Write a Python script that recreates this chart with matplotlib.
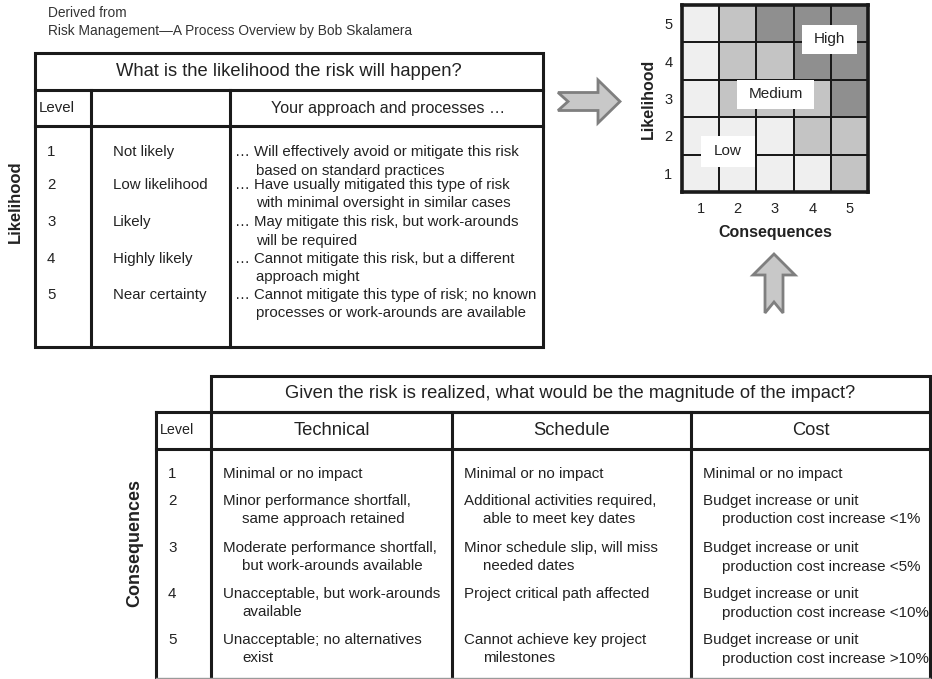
import numpy as np
import matplotlib
matplotlib.use("Agg")
import matplotlib.pyplot as plt
from matplotlib.patches import Rectangle, Polygon
from matplotlib.colors import ListedColormap

plt.rcParams['font.family'] = ['Liberation Sans', 'DejaVu Sans']

# ---- data ----
SOURCE = ["Derived from", "Risk Management\u2014A Process Overview by Bob Skalamera"]

LIKELIHOOD_Q = "What is the likelihood the risk will happen?"
LIKELIHOOD_LEVELS = [1, 2, 3, 4, 5]
LIKELIHOOD_NAMES = ["Not likely", "Low likelihood", "Likely", "Highly likely", "Near certainty"]
APPROACH = [
    "\u2026 Will effectively avoid or mitigate this risk\nbased on standard practices",
    "\u2026 Have usually mitigated this type of risk\nwith minimal oversight in similar cases",
    "\u2026 May mitigate this risk, but work-arounds\nwill be required",
    "\u2026 Cannot mitigate this risk, but a different\napproach might",
    "\u2026 Cannot mitigate this type of risk; no known\nprocesses or work-arounds are available",
]

CONSEQ_Q = "Given the risk is realized, what would be the magnitude of the impact?"
CONSEQ_LEVELS = [1, 2, 3, 4, 5]
CONSEQ_COLUMNS = ["Technical", "Schedule", "Cost"]
TECHNICAL = [
    "Minimal or no impact",
    "Minor performance shortfall,\nsame approach retained",
    "Moderate performance shortfall,\nbut work-arounds available",
    "Unacceptable, but work-arounds\navailable",
    "Unacceptable; no alternatives\nexist",
]
SCHEDULE = [
    "Minimal or no impact",
    "Additional activities required,\nable to meet key dates",
    "Minor schedule slip, will miss\nneeded dates",
    "Project critical path affected",
    "Cannot achieve key project\nmilestones",
]
COST = [
    "Minimal or no impact",
    "Budget increase or unit\nproduction cost increase <1%",
    "Budget increase or unit\nproduction cost increase <5%",
    "Budget increase or unit\nproduction cost increase <10%",
    "Budget increase or unit\nproduction cost increase >10%",
]

# risk level of each cell, rows = likelihood 1..5, cols = consequence 1..5
RISK_GRID = [
    [0, 0, 0, 0, 1],
    [0, 0, 0, 1, 1],
    [0, 1, 1, 1, 2],
    [0, 1, 1, 2, 2],
    [0, 1, 2, 2, 2],
]
RISK_NAMES = ["Low", "Medium", "High"]
RISK_COLORS = ["#efefef", "#c4c4c4", "#8f8f8f"]

# ---- layout (pixels, origin top-left) ----
W, H = 932, 679
LINE = "#1a1a1a"
TXT = "#222222"
LW = 2.2
BODY_TOP = 10.8
BODY_BOT = 10.9
HEAD = 13.2

fig = plt.figure(figsize=(W / 100, H / 100), dpi=100)
ax = fig.add_axes([0, 0, 1, 1])
ax.set_xlim(0, W)
ax.set_ylim(H, 0)
ax.axis("off")


def hline(x0, x1, y, lw=LW, color=LINE):
    ax.plot([x0, x1], [y, y], color=color, lw=lw, solid_capstyle="projecting")


def vline(x, y0, y1, lw=LW, color=LINE):
    ax.plot([x, x], [y0, y1], color=color, lw=lw, solid_capstyle="projecting")


def cell_text(x, y, text, size, indent=20, gap=18.5):
    for i, ln in enumerate(text.split("\n")):
        ax.text(x + (indent if i else 0), y + i * gap, ln, fontsize=size,
                va="center", ha="left", color=TXT)


def notched_arrow(tail, tip, head_len, head_w, shaft_w, notch):
    tail = np.array(tail, float)
    tip = np.array(tip, float)
    d = tip - tail
    L = np.hypot(*d)
    d /= L
    n = np.array([-d[1], d[0]])
    local = [(notch, 0), (0, shaft_w / 2), (L - head_len, shaft_w / 2),
             (L - head_len, head_w / 2), (L, 0), (L - head_len, -head_w / 2),
             (L - head_len, -shaft_w / 2), (0, -shaft_w / 2)]
    pts = [tail + u * d + v * n for u, v in local]
    ax.add_patch(Polygon(pts, closed=True, facecolor="#c8c8c8",
                         edgecolor="#7f7f7f", lw=2.0, joinstyle="miter"))


# source note
ax.text(48, 13, SOURCE[0], fontsize=9.9, va="center", color="#333333")
ax.text(48, 31, SOURCE[1], fontsize=9.9, va="center", color="#333333")

# ---- likelihood table ----
tx0, tx1, ty0, ty1 = 35, 543, 53, 347
c1, c2 = 91, 230
r1, r2 = 90, 126
ax.add_patch(Rectangle((tx0, ty0), tx1 - tx0, ty1 - ty0, fill=False, ec=LINE, lw=LW))
hline(tx0, tx1, r1)
hline(tx0, tx1, r2)
vline(c1, r1, ty1)
vline(c2, r1, ty1)
ax.text((tx0 + tx1) / 2, (ty0 + r1) / 2, LIKELIHOOD_Q, fontsize=HEAD,
        ha="center", va="center", color=TXT)
ax.text(39, (r1 + r2) / 2, "Level", fontsize=BODY_TOP, va="center", color=TXT)
ax.text((c2 + tx1) / 2 + 2, (r1 + r2) / 2, "Your approach and processes \u2026",
        fontsize=11.6, ha="center", va="center", color=TXT)
row_y = [152, 185, 222, 259, 295]
for lvl, name, desc, y in zip(LIKELIHOOD_LEVELS, LIKELIHOOD_NAMES, APPROACH, row_y):
    ax.text(47, y, str(lvl), fontsize=BODY_TOP, va="center", color=TXT)
    ax.text(113, y, name, fontsize=BODY_TOP, va="center", color=TXT)
    cell_text(235, y, desc, BODY_TOP, indent=21)
ax.text(15, 202, "Likelihood", fontsize=12, fontweight="bold", rotation=90,
        ha="center", va="center", color=TXT)

# ---- arrows ----
notched_arrow((558, 101.5), (620, 101.5), 22, 43, 18, 10)
notched_arrow((774, 313), (774, 254), 21, 42, 18, 11)

# ---- risk matrix ----
mx0, mx1, my0, my1 = 682, 868, 5, 192
max_ = fig.add_axes([mx0 / W, 1 - my1 / H, (mx1 - mx0) / W, (my1 - my0) / H])
edges = np.arange(0.5, 6.0, 1.0)
max_.pcolormesh(edges, edges, np.array(RISK_GRID), cmap=ListedColormap(RISK_COLORS),
                vmin=-0.5, vmax=2.5, edgecolors=LINE, linewidth=1.4)
max_.set_xlim(0.5, 5.5)
max_.set_ylim(0.5, 5.5)
max_.set_xticks(CONSEQ_LEVELS)
max_.set_yticks(LIKELIHOOD_LEVELS)
max_.tick_params(length=0, labelsize=10.5, colors=TXT, pad=7)
for s in max_.spines.values():
    s.set_linewidth(2.6)
    s.set_color(LINE)
max_.set_xlabel("Consequences", fontsize=11.5, fontweight="bold", labelpad=7, color=TXT)
max_.set_ylabel("Likelihood", fontsize=11.5, fontweight="bold", labelpad=6, color=TXT)
# label boxes: (center x, center y, width, height) in matrix units
label_boxes = [(1.737, 1.584, 1.45, 0.83), (3.013, 3.107, 2.07, 0.78), (4.465, 4.578, 1.48, 0.78)]
for name, (cx, cy, bw, bh) in zip(RISK_NAMES, label_boxes):
    max_.add_patch(Rectangle((cx - bw / 2, cy - bh / 2), bw, bh, facecolor="white",
                             edgecolor="none", zorder=3))
    max_.text(cx, cy, name, fontsize=11, ha="center", va="center", color=TXT, zorder=4)

# ---- consequence table ----
bx0, bx1 = 156, 930
bq0, bq1 = 211, 930
by0, by1, by2, by3 = 376, 412, 449, 678
cols = [211, 452, 691, 930]
ax.add_patch(Rectangle((bq0, by0), bq1 - bq0, by1 - by0, fill=False, ec=LINE, lw=LW))
hline(bx0, bx1, by1)
hline(bx0, bx1, by2)
vline(bx0, by1, by3)
vline(bx1, by1, by3)
for x in cols[:-1]:
    vline(x, by1, by3)
hline(bx0, bx1, by3, lw=1.0, color="#9a9a9a")
ax.text((bq0 + bq1) / 2, (by0 + by1) / 2, CONSEQ_Q, fontsize=HEAD,
        ha="center", va="center", color=TXT)
ax.text(160, (by1 + by2) / 2, "Level", fontsize=10.3, va="center", color=TXT)
for name, xa, xb in zip(CONSEQ_COLUMNS, cols[:-1], cols[1:]):
    ax.text((xa + xb) / 2, (by1 + by2) / 2, name, fontsize=HEAD,
            ha="center", va="center", color=TXT)
brow_y = [474, 501, 548, 594, 640]
for i, (lvl, y) in enumerate(zip(CONSEQ_LEVELS, brow_y)):
    ax.text(168, y, str(lvl), fontsize=BODY_BOT, va="center", color=TXT)
    for texts, xa in zip([TECHNICAL, SCHEDULE, COST], cols[:-1]):
        cell_text(xa + 12, y, texts[i], BODY_BOT, indent=19)
ax.text(135, 543, "Consequences", fontsize=13, fontweight="bold", rotation=90,
        ha="center", va="center", color=TXT)

fig.savefig("out.png", dpi=100)
